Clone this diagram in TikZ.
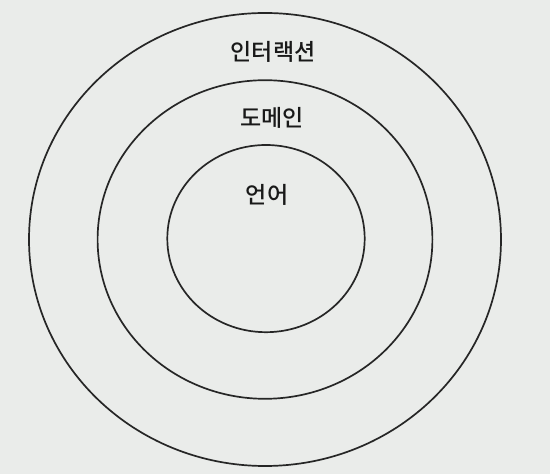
\documentclass[tikz,border=0pt]{standalone}
\usepackage{fontspec}
\newfontfamily\kor{Noto Sans CJK KR Medium}
\definecolor{paper}{RGB}{234,236,234}
\tikzset{ring/.style={line width=1.7pt, draw=black!85}, lbl/.style={font=\kor\fontsize{23}{23}\selectfont, text=black!90}}

\begin{document}
\begin{tikzpicture}[x=1pt, y=1pt]
		%%%%% START %%%%%
		\fill[paper] (0, 0) rectangle (550, 474);
		
		\draw[ring] (265, 234.5) ellipse (236 and 226.5);
		\draw[ring] (265, 234.5) ellipse (167.4 and 159.3);
		\draw[ring] (266, 235.4) ellipse (98.7 and 93.6);
		
		\node[lbl] (interaction) at (273, 422) {인터랙션};
		\node[lbl] (domain) at (272, 356) {도메인};
		\node[lbl] (language) at (267, 279) {언어};
		%%%%% END %%%%%
	\end{tikzpicture}
\end{document}
